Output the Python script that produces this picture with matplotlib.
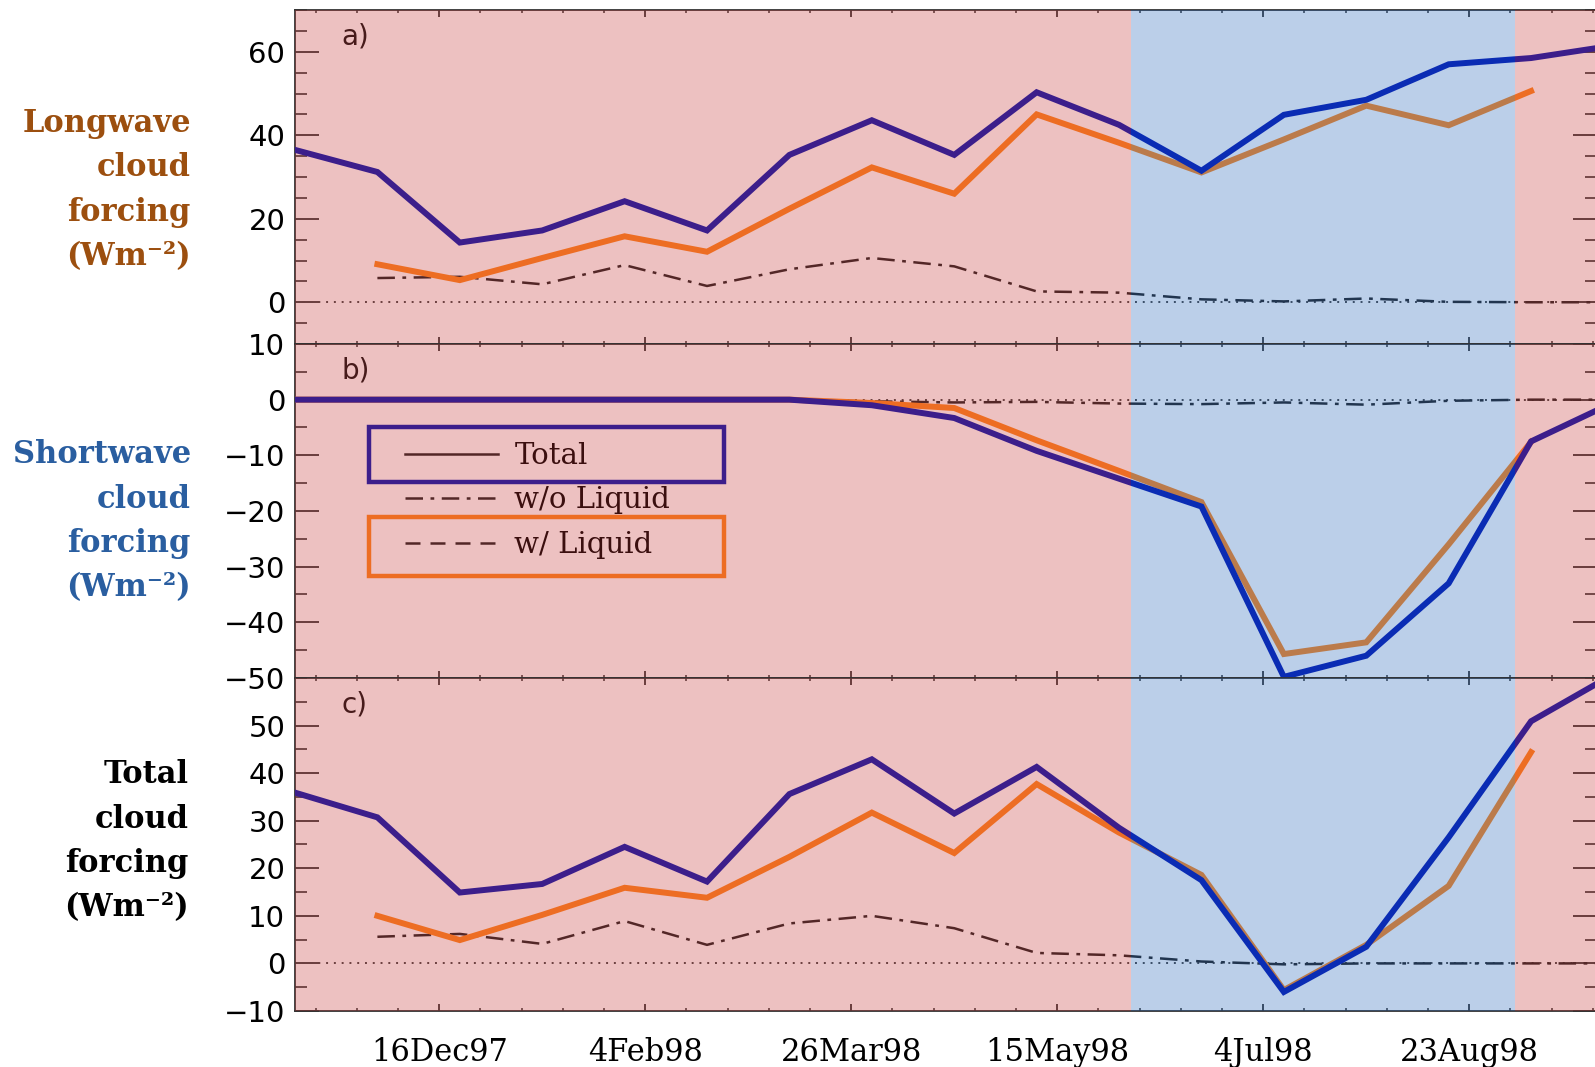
import matplotlib
matplotlib.use("Agg")
import matplotlib.pyplot as plt
import matplotlib.dates as mdates
from matplotlib.lines import Line2D
from matplotlib.patches import Rectangle
from matplotlib.ticker import MultipleLocator, FixedLocator
import numpy as np

nan = np.nan

# sample dates (every 20 days)
dates = np.array(['1997-11-11', '1997-12-01', '1997-12-21', '1998-01-10', '1998-01-30',
                  '1998-02-19', '1998-03-11', '1998-03-31', '1998-04-20', '1998-05-10',
                  '1998-05-30', '1998-06-19', '1998-07-09', '1998-07-29', '1998-08-18',
                  '1998-09-07', '1998-09-27'], dtype='datetime64[D]')

# a) longwave
lw_total = [36.5, 31.2, 14.3, 17.2, 24.2, 17.2, 35.3, 43.6, 35.3, 50.3, 42.5, 31.5, 44.9, 48.5, 57.0, 58.5, 61.5]
lw_wliq = [nan, 9.1, 5.3, 10.6, 15.8, 12.1, 22.4, 32.3, 26.0, 45.0, 38.2, 31.1, 39.0, 47.1, 42.4, 50.6, nan]
lw_woliq = [nan, 5.8, 6.1, 4.3, 8.9, 3.9, 7.9, 10.6, 8.6, 2.6, 2.3, 0.7, 0.2, 0.9, 0.1, 0.0, 0.0]

# b) shortwave
sw_total = [0, 0, 0, 0, 0, 0, 0, -1.0, -3.3, -9.2, -14.2, -19.2, -49.8, -46.0, -33.0, -7.5, -0.5]
sw_wliq = [0, 0, 0, 0, 0, 0, 0, -0.6, -1.5, -7.3, -12.8, -18.4, -45.7, -43.6, -26.0, -7.6, nan]
sw_woliq = [0, 0, 0, 0, 0, 0, 0, -0.3, -0.5, -0.4, -0.7, -0.8, -0.5, -0.9, -0.2, 0.0, 0.0]

# c) total
tc_total = [35.9, 30.7, 14.9, 16.7, 24.5, 17.2, 35.6, 42.9, 31.5, 41.3, 28.5, 17.5, -6.0, 3.5, 26.5, 50.9, 60.8]
tc_wliq = [nan, 10.0, 4.9, 10.2, 15.9, 13.8, 22.4, 31.7, 23.2, 37.7, 27.5, 18.6, -5.6, 3.9, 16.3, 44.4, nan]
tc_woliq = [nan, 5.6, 6.2, 4.1, 8.9, 3.9, 8.4, 10.0, 7.4, 2.2, 1.7, 0.4, -0.2, 0.0, 0.0, 0.0, 0.0]

tick_dates = np.array(['1997-12-16', '1998-02-04', '1998-03-26', '1998-05-15',
                       '1998-07-04', '1998-08-23'], dtype='datetime64[D]')
tick_labels = ['16Dec97', '4Feb98', '26Mar98', '15May98', '4Jul98', '23Aug98']

# shading: pink before/after, blue in summer
summer = np.array(['1998-06-02', '1998-09-03'], dtype='datetime64[D]')
x_start = np.datetime64('1997-11-11')
x_end = np.datetime64('1998-09-23')

purple = '#0115b2'
orange = '#ff871c'
pink_tint = '#c63434'
blue_tint = '#2062b9'
ink = '#222222'
dashdot = (0, (7, 3, 1.5, 3))
dashed = (0, (6, 4))

fig = plt.figure(figsize=(15.95, 10.67), dpi=100)
L, W = 295 / 1595, 1302 / 1595
ax_a = fig.add_axes([L, 0.6776, W, 0.3130])
ax_b = fig.add_axes([L, 0.3646, W, 0.3130])
ax_c = fig.add_axes([L, 0.0525, W, 0.3121])

panels = [
    (ax_a, lw_total, lw_wliq, lw_woliq, (-10, 70), 20, 'a)'),
    (ax_b, sw_total, sw_wliq, sw_woliq, (-50, 10), 10, 'b)'),
    (ax_c, tc_total, tc_wliq, tc_woliq, (-10, 60), 10, 'c)'),
]

minor_days = np.arange(np.datetime64('1997-11-06'), np.datetime64('1998-10-01'), 10)

for ax, tot, wl, wo, ylim, step, tag in panels:
    ax.axhline(0, color='#444444', ls=(0, (1, 3)), lw=1.4, zorder=2)
    ax.plot(dates, wo, color=ink, ls=dashdot, lw=1.8, zorder=3)
    ax.plot(dates, wl, color=ink, ls=dashed, lw=1.8, zorder=3)
    ax.plot(dates, tot, color=ink, lw=1.8, zorder=3)
    ax.plot(dates, wl, color=orange, lw=4.3, zorder=4, solid_joinstyle='miter')
    ax.plot(dates, tot, color=purple, lw=4.3, zorder=5, solid_joinstyle='miter')

    # tinted season shading laid over everything inside the axes
    ax.axvspan(x_start - 30, summer[0], color=pink_tint, alpha=0.3, lw=0, zorder=10)
    ax.axvspan(summer[0], summer[1], color=blue_tint, alpha=0.3, lw=0, zorder=10)
    ax.axvspan(summer[1], x_end + 30, color=pink_tint, alpha=0.3, lw=0, zorder=10)

    ax.set_xlim(x_start, x_end)
    ax.set_ylim(*ylim)
    lo = ylim[0] if step == 10 else 0
    hi = ylim[1] - (0 if ylim[1] == 10 else 10)
    ax.set_yticks(np.arange(lo, hi + 1, step))
    ax.yaxis.set_minor_locator(MultipleLocator(5))
    ax.set_xticks(tick_dates)
    ax.xaxis.set_minor_locator(FixedLocator(mdates.date2num(minor_days)))

    ax.tick_params(axis='y', which='major', direction='in', length=17, width=1.3,
                   left=True, right=True, labelsize=21, pad=7, color='#333333')
    ax.tick_params(axis='y', which='minor', direction='in', length=8.5, width=1.2,
                   left=True, right=True, color='#333333')
    ax.tick_params(axis='x', which='major', direction='in', length=5, width=1.3,
                   top=True, bottom=True, color='#333333')
    ax.tick_params(axis='x', which='minor', direction='in', length=2.5, width=1.1,
                   top=True, bottom=True, color='#333333')
    for lab in ax.get_yticklabels():
        lab.set_family('DejaVu Sans')
    for s in ax.spines.values():
        s.set_linewidth(1.3)
        s.set_color('#333333')

    ax.text(0.036, 0.92, tag, transform=ax.transAxes, fontsize=20, va='center',
            ha='left', color='#111111', family='DejaVu Sans', zorder=6)

for ax in (ax_a, ax_b):
    ax.tick_params(axis='x', labelbottom=False)
ax_c.set_xticklabels(tick_labels, family='DejaVu Serif', fontsize=22)
ax_c.tick_params(axis='x', which='major', pad=19)

# legend in panel b
handles = [Line2D([], [], color=ink, lw=1.8),
           Line2D([], [], color=ink, lw=1.8, ls=dashdot),
           Line2D([], [], color=ink, lw=1.8, ls=dashed)]
leg = ax_b.legend(handles, ['Total', 'w/o Liquid', 'w/ Liquid'], loc='upper left',
                  bbox_to_anchor=(0.0845, 0.707), frameon=False, borderpad=0,
                  borderaxespad=0, handlelength=3.2, handletextpad=0.55,
                  labelspacing=0.57, prop={'family': 'DejaVu Serif', 'size': 21})
leg.set_zorder(6)
ax_b.add_patch(Rectangle((0.0568, 0.587), 0.2727, 0.164, transform=ax_b.transAxes,
                         fill=False, ec=purple, lw=3.2, zorder=6))
ax_b.add_patch(Rectangle((0.0568, 0.305), 0.2727, 0.177, transform=ax_b.transAxes,
                         fill=False, ec=orange, lw=3.2, zorder=6))

# row labels on the left
side_labels = [
    (['Longwave', 'cloud', 'forcing', '(Wm\u207b\u00b2)'], '#9c4f0f', 132, 191),
    (['Shortwave', 'cloud', 'forcing', '(Wm\u207b\u00b2)'], '#2a5ea0', 463, 191),
    (['Total', 'cloud', 'forcing', '(Wm\u207b\u00b2)'], '#000000', 783, 189),
]
for words, col, y0, xr in side_labels:
    for i, w in enumerate(words):
        fig.text(xr / 1595, 1 - (y0 + i * 44.5) / 1067, w, ha='right', va='baseline',
                 color=col, fontsize=22, fontweight='bold',
                 family=['DejaVu Serif', 'DejaVu Sans'])

fig.savefig('out.png', dpi=100)
